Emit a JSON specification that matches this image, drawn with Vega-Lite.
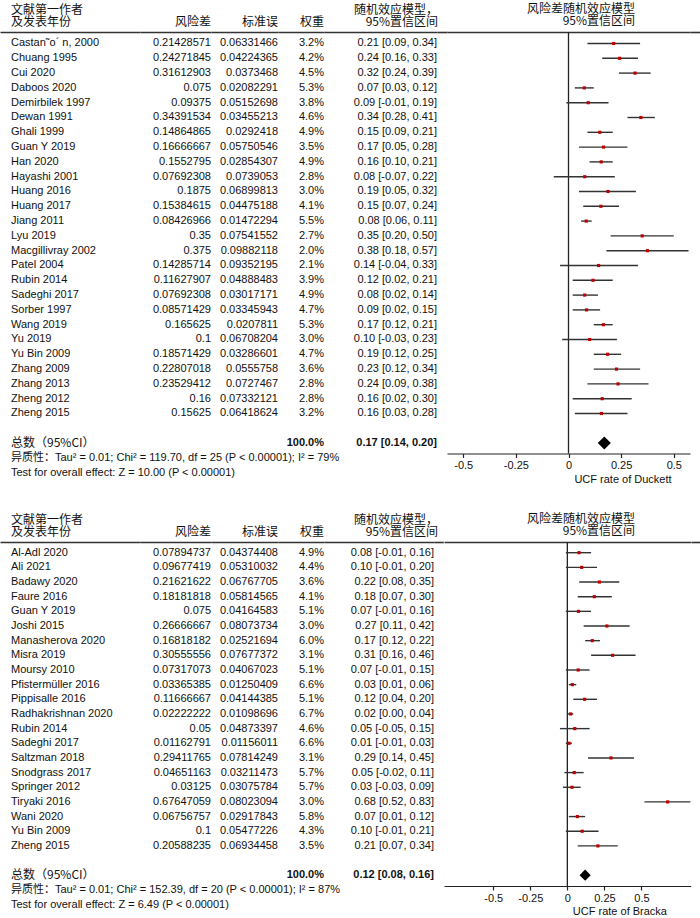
{
"$schema": "https://vega.github.io/schema/vega-lite/v6.json",
"background": "white",
"padding": {"top": 3, "left": 0, "right": 0, "bottom": 0},
"spacing": 29,
"config": {
  "view": {"stroke": null},
  "font": "Liberation Sans",
  "text": {"font": "Liberation Sans", "fontSize": 11, "color": "#111"},
  "title": {"font": "Noto Sans CJK SC", "fontSize": 12, "fontWeight": "normal", "color": "#111", "lineHeight": 12, "offset": 3},
  "axis": {"grid": false, "labelFont": "Liberation Sans", "labelFontSize": 11, "labelColor": "#111", "titleFont": "Liberation Sans", "titleFontSize": 11, "titleFontWeight": "normal", "titleColor": "#111", "domainColor": "#222", "tickColor": "#222", "domainWidth": 1.2, "tickWidth": 1.2, "tickSize": 4, "labelPadding": 2}
},
"datasets": {
  "duckett": [
    {"study": "Castan˜o´ n, 2000", "rd": "0.21428571", "se": "0.06331466", "w": "3.2%", "ci": "0.21 [0.09, 0.34]", "est": 0.21428571, "lo": 0.09, "hi": 0.34, "type": "study"},
    {"study": "Chuang 1995", "rd": "0.24271845", "se": "0.04224365", "w": "4.2%", "ci": "0.24 [0.16, 0.33]", "est": 0.24271845, "lo": 0.16, "hi": 0.33, "type": "study"},
    {"study": "Cui 2020", "rd": "0.31612903", "se": "0.0373468", "w": "4.5%", "ci": "0.32 [0.24, 0.39]", "est": 0.31612903, "lo": 0.24, "hi": 0.39, "type": "study"},
    {"study": "Daboos 2020", "rd": "0.075", "se": "0.02082291", "w": "5.3%", "ci": "0.07 [0.03, 0.12]", "est": 0.075, "lo": 0.03, "hi": 0.12, "type": "study"},
    {"study": "Demirbilek 1997", "rd": "0.09375", "se": "0.05152698", "w": "3.8%", "ci": "0.09 [-0.01, 0.19]", "est": 0.09375, "lo": -0.01, "hi": 0.19, "type": "study"},
    {"study": "Dewan 1991", "rd": "0.34391534", "se": "0.03455213", "w": "4.6%", "ci": "0.34 [0.28, 0.41]", "est": 0.34391534, "lo": 0.28, "hi": 0.41, "type": "study"},
    {"study": "Ghali 1999", "rd": "0.14864865", "se": "0.0292418", "w": "4.9%", "ci": "0.15 [0.09, 0.21]", "est": 0.14864865, "lo": 0.09, "hi": 0.21, "type": "study"},
    {"study": "Guan Y 2019", "rd": "0.16666667", "se": "0.05750546", "w": "3.5%", "ci": "0.17 [0.05, 0.28]", "est": 0.16666667, "lo": 0.05, "hi": 0.28, "type": "study"},
    {"study": "Han 2020", "rd": "0.1552795", "se": "0.02854307", "w": "4.9%", "ci": "0.16 [0.10, 0.21]", "est": 0.1552795, "lo": 0.10, "hi": 0.21, "type": "study"},
    {"study": "Hayashi 2001", "rd": "0.07692308", "se": "0.0739053", "w": "2.8%", "ci": "0.08 [-0.07, 0.22]", "est": 0.07692308, "lo": -0.07, "hi": 0.22, "type": "study"},
    {"study": "Huang 2016", "rd": "0.1875", "se": "0.06899813", "w": "3.0%", "ci": "0.19 [0.05, 0.32]", "est": 0.1875, "lo": 0.05, "hi": 0.32, "type": "study"},
    {"study": "Huang 2017", "rd": "0.15384615", "se": "0.04475188", "w": "4.1%", "ci": "0.15 [0.07, 0.24]", "est": 0.15384615, "lo": 0.07, "hi": 0.24, "type": "study"},
    {"study": "Jiang 2011", "rd": "0.08426966", "se": "0.01472294", "w": "5.5%", "ci": "0.08 [0.06, 0.11]", "est": 0.08426966, "lo": 0.06, "hi": 0.11, "type": "study"},
    {"study": "Lyu 2019", "rd": "0.35", "se": "0.07541552", "w": "2.7%", "ci": "0.35 [0.20, 0.50]", "est": 0.35, "lo": 0.20, "hi": 0.50, "type": "study"},
    {"study": "Macgillivray 2002", "rd": "0.375", "se": "0.09882118", "w": "2.0%", "ci": "0.38 [0.18, 0.57]", "est": 0.375, "lo": 0.18, "hi": 0.57, "type": "study"},
    {"study": "Patel 2004", "rd": "0.14285714", "se": "0.09352195", "w": "2.1%", "ci": "0.14 [-0.04, 0.33]", "est": 0.14285714, "lo": -0.04, "hi": 0.33, "type": "study"},
    {"study": "Rubin 2014", "rd": "0.11627907", "se": "0.04888483", "w": "3.9%", "ci": "0.12 [0.02, 0.21]", "est": 0.11627907, "lo": 0.02, "hi": 0.21, "type": "study"},
    {"study": "Sadeghi 2017", "rd": "0.07692308", "se": "0.03017171", "w": "4.9%", "ci": "0.08 [0.02, 0.14]", "est": 0.07692308, "lo": 0.02, "hi": 0.14, "type": "study"},
    {"study": "Sorber 1997", "rd": "0.08571429", "se": "0.03345943", "w": "4.7%", "ci": "0.09 [0.02, 0.15]", "est": 0.08571429, "lo": 0.02, "hi": 0.15, "type": "study"},
    {"study": "Wang 2019", "rd": "0.165625", "se": "0.0207811", "w": "5.3%", "ci": "0.17 [0.12, 0.21]", "est": 0.165625, "lo": 0.12, "hi": 0.21, "type": "study"},
    {"study": "Yu 2019", "rd": "0.1", "se": "0.06708204", "w": "3.0%", "ci": "0.10 [-0.03, 0.23]", "est": 0.1, "lo": -0.03, "hi": 0.23, "type": "study"},
    {"study": "Yu Bin 2009", "rd": "0.18571429", "se": "0.03286601", "w": "4.7%", "ci": "0.19 [0.12, 0.25]", "est": 0.18571429, "lo": 0.12, "hi": 0.25, "type": "study"},
    {"study": "Zhang 2009", "rd": "0.22807018", "se": "0.0555758", "w": "3.6%", "ci": "0.23 [0.12, 0.34]", "est": 0.22807018, "lo": 0.12, "hi": 0.34, "type": "study"},
    {"study": "Zhang 2013", "rd": "0.23529412", "se": "0.0727467", "w": "2.8%", "ci": "0.24 [0.09, 0.38]", "est": 0.23529412, "lo": 0.09, "hi": 0.38, "type": "study"},
    {"study": "Zheng 2012", "rd": "0.16", "se": "0.07332121", "w": "2.8%", "ci": "0.16 [0.02, 0.30]", "est": 0.16, "lo": 0.02, "hi": 0.30, "type": "study"},
    {"study": "Zheng 2015", "rd": "0.15625", "se": "0.06418624", "w": "3.2%", "ci": "0.16 [0.03, 0.28]", "est": 0.15625, "lo": 0.03, "hi": 0.28, "type": "study"},
    {"study": "总数（95%CI）", "w": "100.0%", "ci": "0.17 [0.14, 0.20]", "est": 0.17, "lo": 0.14, "hi": 0.20, "type": "total"},
    {"study": "异质性", "note": "异质性：Tau² = 0.01; Chi² = 119.70, df = 25 (P < 0.00001); I² = 79%", "type": "note"},
    {"study": "Test", "note": "Test for overall effect: Z = 10.00 (P < 0.00001)", "type": "note"}
  ],
  "bracka": [
    {"study": "Al-Adl 2020", "rd": "0.07894737", "se": "0.04374408", "w": "4.9%", "ci": "0.08 [-0.01, 0.16]", "est": 0.07894737, "lo": -0.01, "hi": 0.16, "type": "study"},
    {"study": "Ali 2021", "rd": "0.09677419", "se": "0.05310032", "w": "4.4%", "ci": "0.10 [-0.01, 0.20]", "est": 0.09677419, "lo": -0.01, "hi": 0.20, "type": "study"},
    {"study": "Badawy 2020", "rd": "0.21621622", "se": "0.06767705", "w": "3.6%", "ci": "0.22 [0.08, 0.35]", "est": 0.21621622, "lo": 0.08, "hi": 0.35, "type": "study"},
    {"study": "Faure 2016", "rd": "0.18181818", "se": "0.05814565", "w": "4.1%", "ci": "0.18 [0.07, 0.30]", "est": 0.18181818, "lo": 0.07, "hi": 0.30, "type": "study"},
    {"study": "Guan Y 2019", "rd": "0.075", "se": "0.04164583", "w": "5.1%", "ci": "0.07 [-0.01, 0.16]", "est": 0.075, "lo": -0.01, "hi": 0.16, "type": "study"},
    {"study": "Joshi 2015", "rd": "0.26666667", "se": "0.08073734", "w": "3.0%", "ci": "0.27 [0.11, 0.42]", "est": 0.26666667, "lo": 0.11, "hi": 0.42, "type": "study"},
    {"study": "Manasherova 2020", "rd": "0.16818182", "se": "0.02521694", "w": "6.0%", "ci": "0.17 [0.12, 0.22]", "est": 0.16818182, "lo": 0.12, "hi": 0.22, "type": "study"},
    {"study": "Misra 2019", "rd": "0.30555556", "se": "0.07677372", "w": "3.1%", "ci": "0.31 [0.16, 0.46]", "est": 0.30555556, "lo": 0.16, "hi": 0.46, "type": "study"},
    {"study": "Moursy 2010", "rd": "0.07317073", "se": "0.04067023", "w": "5.1%", "ci": "0.07 [-0.01, 0.15]", "est": 0.07317073, "lo": -0.01, "hi": 0.15, "type": "study"},
    {"study": "Pfistermüller 2016", "rd": "0.03365385", "se": "0.01250409", "w": "6.6%", "ci": "0.03 [0.01, 0.06]", "est": 0.03365385, "lo": 0.01, "hi": 0.06, "type": "study"},
    {"study": "Pippisalle 2016", "rd": "0.11666667", "se": "0.04144385", "w": "5.1%", "ci": "0.12 [0.04, 0.20]", "est": 0.11666667, "lo": 0.04, "hi": 0.20, "type": "study"},
    {"study": "Radhakrishnan 2020", "rd": "0.02222222", "se": "0.01098696", "w": "6.7%", "ci": "0.02 [0.00, 0.04]", "est": 0.02222222, "lo": 0.00, "hi": 0.04, "type": "study"},
    {"study": "Rubin 2014", "rd": "0.05", "se": "0.04873397", "w": "4.6%", "ci": "0.05 [-0.05, 0.15]", "est": 0.05, "lo": -0.05, "hi": 0.15, "type": "study"},
    {"study": "Sadeghi 2017", "rd": "0.01162791", "se": "0.01156011", "w": "6.6%", "ci": "0.01 [-0.01, 0.03]", "est": 0.01162791, "lo": -0.01, "hi": 0.03, "type": "study"},
    {"study": "Saltzman 2018", "rd": "0.29411765", "se": "0.07814249", "w": "3.1%", "ci": "0.29 [0.14, 0.45]", "est": 0.29411765, "lo": 0.14, "hi": 0.45, "type": "study"},
    {"study": "Snodgrass 2017", "rd": "0.04651163", "se": "0.03211473", "w": "5.7%", "ci": "0.05 [-0.02, 0.11]", "est": 0.04651163, "lo": -0.02, "hi": 0.11, "type": "study"},
    {"study": "Springer 2012", "rd": "0.03125", "se": "0.03075784", "w": "5.7%", "ci": "0.03 [-0.03, 0.09]", "est": 0.03125, "lo": -0.03, "hi": 0.09, "type": "study"},
    {"study": "Tiryaki 2016", "rd": "0.67647059", "se": "0.08023094", "w": "3.0%", "ci": "0.68 [0.52, 0.83]", "est": 0.67647059, "lo": 0.52, "hi": 0.83, "type": "study"},
    {"study": "Wani 2020", "rd": "0.06756757", "se": "0.02917843", "w": "5.8%", "ci": "0.07 [0.01, 0.12]", "est": 0.06756757, "lo": 0.01, "hi": 0.12, "type": "study"},
    {"study": "Yu Bin 2009", "rd": "0.1", "se": "0.05477226", "w": "4.3%", "ci": "0.10 [-0.01, 0.21]", "est": 0.1, "lo": -0.01, "hi": 0.21, "type": "study"},
    {"study": "Zheng 2015", "rd": "0.20588235", "se": "0.06934458", "w": "3.5%", "ci": "0.21 [0.07, 0.34]", "est": 0.20588235, "lo": 0.07, "hi": 0.34, "type": "study"},
    {"study": "总数（95%CI）", "w": "100.0%", "ci": "0.12 [0.08, 0.16]", "est": 0.12, "lo": 0.08, "hi": 0.16, "type": "total"},
    {"study": "异质性", "note": "异质性：Tau² = 0.01; Chi² = 152.39, df = 20 (P < 0.00001); I² = 87%", "type": "note"},
    {"study": "Test", "note": "Test for overall effect: Z = 6.49 (P < 0.00001)", "type": "note"}
  ]
},
"vconcat": [
  {
    "bounds": "flush",
    "spacing": 0,
    "hconcat": [
      {
        "width": 140, "height": 451.1,
        "data": {"name": "duckett"},
        "title": {"text": ["文献第一作者", " 及发表年份"], "anchor": "start", "align": "left", "dx": 11, "lineHeight": 12},
        "encoding": {
          "x": {"datum": "study", "type": "nominal", "scale": {"type": "point", "align": 0.0786}, "axis": {"orient": "top", "labels": false, "ticks": false, "title": null, "domainColor": "#333", "domainWidth": 1.6}},
          "y": {"field": "study", "type": "nominal", "scale": {"type": "point", "domain": ["Castan˜o´ n, 2000","Chuang 1995","Cui 2020","Daboos 2020","Demirbilek 1997","Dewan 1991","Ghali 1999","Guan Y 2019","Han 2020","Hayashi 2001","Huang 2016","Huang 2017","Jiang 2011","Lyu 2019","Macgillivray 2002","Patel 2004","Rubin 2014","Sadeghi 2017","Sorber 1997","Wang 2019","Yu 2019","Yu Bin 2009","Zhang 2009","Zhang 2013","Zheng 2012","Zheng 2015","","总数（95%CI）","异质性","Test"], "padding": 0.74, "align": 0.525}, "axis": null}
        },
        "layer": [
          {"transform": [{"filter": "datum.type === 'study'"}], "mark": {"type": "text", "align": "left"}, "encoding": {"text": {"field": "study"}}},
          {"transform": [{"filter": "datum.type === 'total'"}], "mark": {"type": "text", "align": "left", "font": "Noto Sans CJK SC", "fontSize": 12}, "encoding": {"text": {"field": "study"}}},
          {"transform": [{"filter": "datum.type === 'note'"}], "mark": {"type": "text", "align": "left", "font": "Liberation Sans, Noto Sans CJK SC"}, "encoding": {"text": {"field": "note"}}}
        ]
      },
      {
        "width": 71, "height": 451.1,
        "data": {"name": "duckett"},
        "title": {"text": "风险差", "anchor": "end", "align": "right"},
        "transform": [{"filter": "datum.type === 'study'"}],
        "mark": {"type": "text", "align": "right"},
        "encoding": {
          "x": {"datum": "rd", "type": "nominal", "scale": {"type": "point", "align": 1}, "axis": {"orient": "top", "labels": false, "ticks": false, "title": null, "domainColor": "#333", "domainWidth": 1.6}},
          "y": {"field": "study", "type": "nominal", "scale": {"type": "point", "domain": ["Castan˜o´ n, 2000","Chuang 1995","Cui 2020","Daboos 2020","Demirbilek 1997","Dewan 1991","Ghali 1999","Guan Y 2019","Han 2020","Hayashi 2001","Huang 2016","Huang 2017","Jiang 2011","Lyu 2019","Macgillivray 2002","Patel 2004","Rubin 2014","Sadeghi 2017","Sorber 1997","Wang 2019","Yu 2019","Yu Bin 2009","Zhang 2009","Zhang 2013","Zheng 2012","Zheng 2015","","总数（95%CI）","异质性","Test"], "padding": 0.74, "align": 0.525}, "axis": null},
          "text": {"field": "rd"}
        }
      },
      {
        "width": 67, "height": 451.1,
        "data": {"name": "duckett"},
        "title": {"text": "标准误", "anchor": "end", "align": "right"},
        "transform": [{"filter": "datum.type === 'study'"}],
        "mark": {"type": "text", "align": "right"},
        "encoding": {
          "x": {"datum": "se", "type": "nominal", "scale": {"type": "point", "align": 1}, "axis": {"orient": "top", "labels": false, "ticks": false, "title": null, "domainColor": "#333", "domainWidth": 1.6}},
          "y": {"field": "study", "type": "nominal", "scale": {"type": "point", "domain": ["Castan˜o´ n, 2000","Chuang 1995","Cui 2020","Daboos 2020","Demirbilek 1997","Dewan 1991","Ghali 1999","Guan Y 2019","Han 2020","Hayashi 2001","Huang 2016","Huang 2017","Jiang 2011","Lyu 2019","Macgillivray 2002","Patel 2004","Rubin 2014","Sadeghi 2017","Sorber 1997","Wang 2019","Yu 2019","Yu Bin 2009","Zhang 2009","Zhang 2013","Zheng 2012","Zheng 2015","","总数（95%CI）","异质性","Test"], "padding": 0.74, "align": 0.525}, "axis": null},
          "text": {"field": "se"}
        }
      },
      {
        "width": 46, "height": 451.1,
        "data": {"name": "duckett"},
        "title": {"text": "权重", "anchor": "end", "align": "right"},
        "encoding": {
          "x": {"datum": "w", "type": "nominal", "scale": {"type": "point", "align": 1}, "axis": {"orient": "top", "labels": false, "ticks": false, "title": null, "domainColor": "#333", "domainWidth": 1.6}},
          "y": {"field": "study", "type": "nominal", "scale": {"type": "point", "domain": ["Castan˜o´ n, 2000","Chuang 1995","Cui 2020","Daboos 2020","Demirbilek 1997","Dewan 1991","Ghali 1999","Guan Y 2019","Han 2020","Hayashi 2001","Huang 2016","Huang 2017","Jiang 2011","Lyu 2019","Macgillivray 2002","Patel 2004","Rubin 2014","Sadeghi 2017","Sorber 1997","Wang 2019","Yu 2019","Yu Bin 2009","Zhang 2009","Zhang 2013","Zheng 2012","Zheng 2015","","总数（95%CI）","异质性","Test"], "padding": 0.74, "align": 0.525}, "axis": null},
          "text": {"field": "w"}
        },
        "layer": [
          {"transform": [{"filter": "datum.type === 'study'"}], "mark": {"type": "text", "align": "right"}},
          {"transform": [{"filter": "datum.type === 'total'"}], "mark": {"type": "text", "align": "right", "fontWeight": "bold"}}
        ]
      },
      {
        "width": 113, "height": 451.1,
        "data": {"name": "duckett"},
        "title": {"text": ["随机效应模型，", "95%置信区间"], "anchor": "end", "align": "right", "dx": 1, "lineHeight": 12},
        "encoding": {
          "x": {"datum": "ci", "type": "nominal", "scale": {"type": "point", "align": 1}, "axis": {"orient": "top", "labels": false, "ticks": false, "title": null, "domainColor": "#333", "domainWidth": 1.6}},
          "y": {"field": "study", "type": "nominal", "scale": {"type": "point", "domain": ["Castan˜o´ n, 2000","Chuang 1995","Cui 2020","Daboos 2020","Demirbilek 1997","Dewan 1991","Ghali 1999","Guan Y 2019","Han 2020","Hayashi 2001","Huang 2016","Huang 2017","Jiang 2011","Lyu 2019","Macgillivray 2002","Patel 2004","Rubin 2014","Sadeghi 2017","Sorber 1997","Wang 2019","Yu 2019","Yu Bin 2009","Zhang 2009","Zhang 2013","Zheng 2012","Zheng 2015","","总数（95%CI）","异质性","Test"], "padding": 0.74, "align": 0.525}, "axis": null},
          "text": {"field": "ci"}
        },
        "layer": [
          {"transform": [{"filter": "datum.type === 'study'"}], "mark": {"type": "text", "align": "right"}},
          {"transform": [{"filter": "datum.type === 'total'"}], "mark": {"type": "text", "align": "right", "fontWeight": "bold"}}
        ]
      },
      {
        "width": 10, "height": 421.5,
        "data": {"values": [{}]},
        "mark": {"type": "text"},
        "encoding": {
          "x": {"datum": "gap", "type": "nominal", "axis": {"orient": "top", "labels": false, "ticks": false, "title": null, "domainColor": "#333", "domainWidth": 1.6}},
          "text": {"value": ""}
        }
      },
      {
        "width": 243, "height": 421.5,
        "data": {"name": "duckett"},
        "title": {"text": ["风险差随机效应模型", "95%置信区间"], "anchor": "end", "align": "right", "dx": -55, "lineHeight": 12},
        "resolve": {"scale": {"x": "independent"}, "axis": {"x": "independent"}},
        "layer": [
          {
            "data": {"values": [{}]},
            "mark": {"type": "rule", "color": "#222", "strokeWidth": 1.3},
            "encoding": {"x": {"datum": 0, "type": "quantitative", "scale": {"domain": [-0.577, 0.577], "nice": false, "zero": false}, "axis": {"orient": "top", "labels": false, "ticks": false, "title": null, "domainColor": "#333", "domainWidth": 1.6}}}
          },
          {
            "encoding": {
              "y": {"field": "study", "type": "nominal", "scale": {"type": "point", "domain": ["Castan˜o´ n, 2000","Chuang 1995","Cui 2020","Daboos 2020","Demirbilek 1997","Dewan 1991","Ghali 1999","Guan Y 2019","Han 2020","Hayashi 2001","Huang 2016","Huang 2017","Jiang 2011","Lyu 2019","Macgillivray 2002","Patel 2004","Rubin 2014","Sadeghi 2017","Sorber 1997","Wang 2019","Yu 2019","Yu Bin 2009","Zhang 2009","Zhang 2013","Zheng 2012","Zheng 2015","","总数（95%CI）"], "padding": 0.74, "align": 0.525}, "axis": null},
              "x": {"field": "lo", "type": "quantitative", "title": "UCF rate of Duckett", "scale": {"domain": [-0.577, 0.577], "nice": false, "zero": false}, "axis": {"orient": "bottom", "values": [-0.5, -0.25, 0, 0.25, 0.5], "labelExpr": "datum.value < 0 ? '-' + format(-datum.value, '~g') : format(datum.value, '~g')", "titleX": 175.5, "titleY": 19.5, "titleAlign": "center"}}
            },
            "layer": [
              {"transform": [{"filter": "datum.type === 'study'"}], "mark": {"type": "rule", "color": "#333", "strokeWidth": 1.4}, "encoding": {"x2": {"field": "hi"}}},
              {"transform": [{"filter": "datum.type === 'study'"}], "mark": {"type": "square", "color": "#c00000", "size": 10, "opacity": 1}, "encoding": {"x": {"field": "est", "type": "quantitative", "title": "UCF rate of Duckett"}}},
              {"transform": [{"filter": "datum.type === 'total'"}], "mark": {"type": "point", "shape": "diamond", "filled": true, "color": "#000", "size": 170, "opacity": 1}, "encoding": {"x": {"field": "est", "type": "quantitative", "title": "UCF rate of Duckett"}}}
            ]
          }
        ]
      },
      {
        "width": 10, "height": 421.5,
        "data": {"values": [{}]},
        "mark": {"type": "text"},
        "encoding": {
          "x": {"datum": "gap", "type": "nominal", "axis": {"orient": "top", "labels": false, "ticks": false, "title": null, "domainColor": "#333", "domainWidth": 1.6}},
          "text": {"value": ""}
        }
      }
    ]
  },
  {
    "bounds": "flush",
    "spacing": 0,
    "hconcat": [
      {
        "width": 140, "height": 373.3,
        "data": {"name": "bracka"},
        "title": {"text": ["文献第一作者", " 及发表年份"], "anchor": "start", "align": "left", "dx": 11, "lineHeight": 12},
        "encoding": {
          "x": {"datum": "study", "type": "nominal", "scale": {"type": "point", "align": 0.0786}, "axis": {"orient": "top", "labels": false, "ticks": false, "title": null, "domainColor": "#333", "domainWidth": 1.6}},
          "y": {"field": "study", "type": "nominal", "scale": {"type": "point", "domain": ["Al-Adl 2020","Ali 2021","Badawy 2020","Faure 2016","Guan Y 2019","Joshi 2015","Manasherova 2020","Misra 2019","Moursy 2010","Pfistermüller 2016","Pippisalle 2016","Radhakrishnan 2020","Rubin 2014","Sadeghi 2017","Saltzman 2018","Snodgrass 2017","Springer 2012","Tiryaki 2016","Wani 2020","Yu Bin 2009","Zheng 2015","","总数（95%CI）","异质性","Test"], "padding": 0.733, "align": 0.498}, "axis": null}
        },
        "layer": [
          {"transform": [{"filter": "datum.type === 'study'"}], "mark": {"type": "text", "align": "left"}, "encoding": {"text": {"field": "study"}}},
          {"transform": [{"filter": "datum.type === 'total'"}], "mark": {"type": "text", "align": "left", "font": "Noto Sans CJK SC", "fontSize": 12}, "encoding": {"text": {"field": "study"}}},
          {"transform": [{"filter": "datum.type === 'note'"}], "mark": {"type": "text", "align": "left", "font": "Liberation Sans, Noto Sans CJK SC"}, "encoding": {"text": {"field": "note"}}}
        ]
      },
      {
        "width": 71, "height": 373.3,
        "data": {"name": "bracka"},
        "title": {"text": "风险差", "anchor": "end", "align": "right"},
        "transform": [{"filter": "datum.type === 'study'"}],
        "mark": {"type": "text", "align": "right"},
        "encoding": {
          "x": {"datum": "rd", "type": "nominal", "scale": {"type": "point", "align": 1}, "axis": {"orient": "top", "labels": false, "ticks": false, "title": null, "domainColor": "#333", "domainWidth": 1.6}},
          "y": {"field": "study", "type": "nominal", "scale": {"type": "point", "domain": ["Al-Adl 2020","Ali 2021","Badawy 2020","Faure 2016","Guan Y 2019","Joshi 2015","Manasherova 2020","Misra 2019","Moursy 2010","Pfistermüller 2016","Pippisalle 2016","Radhakrishnan 2020","Rubin 2014","Sadeghi 2017","Saltzman 2018","Snodgrass 2017","Springer 2012","Tiryaki 2016","Wani 2020","Yu Bin 2009","Zheng 2015","","总数（95%CI）","异质性","Test"], "padding": 0.733, "align": 0.498}, "axis": null},
          "text": {"field": "rd"}
        }
      },
      {
        "width": 67, "height": 373.3,
        "data": {"name": "bracka"},
        "title": {"text": "标准误", "anchor": "end", "align": "right"},
        "transform": [{"filter": "datum.type === 'study'"}],
        "mark": {"type": "text", "align": "right"},
        "encoding": {
          "x": {"datum": "se", "type": "nominal", "scale": {"type": "point", "align": 1}, "axis": {"orient": "top", "labels": false, "ticks": false, "title": null, "domainColor": "#333", "domainWidth": 1.6}},
          "y": {"field": "study", "type": "nominal", "scale": {"type": "point", "domain": ["Al-Adl 2020","Ali 2021","Badawy 2020","Faure 2016","Guan Y 2019","Joshi 2015","Manasherova 2020","Misra 2019","Moursy 2010","Pfistermüller 2016","Pippisalle 2016","Radhakrishnan 2020","Rubin 2014","Sadeghi 2017","Saltzman 2018","Snodgrass 2017","Springer 2012","Tiryaki 2016","Wani 2020","Yu Bin 2009","Zheng 2015","","总数（95%CI）","异质性","Test"], "padding": 0.733, "align": 0.498}, "axis": null},
          "text": {"field": "se"}
        }
      },
      {
        "width": 46, "height": 373.3,
        "data": {"name": "bracka"},
        "title": {"text": "权重", "anchor": "end", "align": "right"},
        "encoding": {
          "x": {"datum": "w", "type": "nominal", "scale": {"type": "point", "align": 1}, "axis": {"orient": "top", "labels": false, "ticks": false, "title": null, "domainColor": "#333", "domainWidth": 1.6}},
          "y": {"field": "study", "type": "nominal", "scale": {"type": "point", "domain": ["Al-Adl 2020","Ali 2021","Badawy 2020","Faure 2016","Guan Y 2019","Joshi 2015","Manasherova 2020","Misra 2019","Moursy 2010","Pfistermüller 2016","Pippisalle 2016","Radhakrishnan 2020","Rubin 2014","Sadeghi 2017","Saltzman 2018","Snodgrass 2017","Springer 2012","Tiryaki 2016","Wani 2020","Yu Bin 2009","Zheng 2015","","总数（95%CI）","异质性","Test"], "padding": 0.733, "align": 0.498}, "axis": null},
          "text": {"field": "w"}
        },
        "layer": [
          {"transform": [{"filter": "datum.type === 'study'"}], "mark": {"type": "text", "align": "right"}},
          {"transform": [{"filter": "datum.type === 'total'"}], "mark": {"type": "text", "align": "right", "fontWeight": "bold"}}
        ]
      },
      {
        "width": 110, "height": 373.3,
        "data": {"name": "bracka"},
        "title": {"text": ["随机效应模型，", "95%置信区间"], "anchor": "end", "align": "right", "dx": 4, "lineHeight": 12},
        "encoding": {
          "x": {"datum": "ci", "type": "nominal", "scale": {"type": "point", "align": 1}, "axis": {"orient": "top", "labels": false, "ticks": false, "title": null, "domainColor": "#333", "domainWidth": 1.6}},
          "y": {"field": "study", "type": "nominal", "scale": {"type": "point", "domain": ["Al-Adl 2020","Ali 2021","Badawy 2020","Faure 2016","Guan Y 2019","Joshi 2015","Manasherova 2020","Misra 2019","Moursy 2010","Pfistermüller 2016","Pippisalle 2016","Radhakrishnan 2020","Rubin 2014","Sadeghi 2017","Saltzman 2018","Snodgrass 2017","Springer 2012","Tiryaki 2016","Wani 2020","Yu Bin 2009","Zheng 2015","","总数（95%CI）","异质性","Test"], "padding": 0.733, "align": 0.498}, "axis": null},
          "text": {"field": "ci"}
        },
        "layer": [
          {"transform": [{"filter": "datum.type === 'study'"}], "mark": {"type": "text", "align": "right"}},
          {"transform": [{"filter": "datum.type === 'total'"}], "mark": {"type": "text", "align": "right", "fontWeight": "bold"}}
        ]
      },
      {
        "width": 9.3, "height": 344,
        "data": {"values": [{}]},
        "mark": {"type": "text"},
        "encoding": {
          "x": {"datum": "gap", "type": "nominal", "axis": {"orient": "top", "labels": false, "ticks": false, "title": null, "domainColor": "#333", "domainWidth": 1.6}},
          "text": {"value": ""}
        }
      },
      {
        "width": 246.7, "height": 344,
        "data": {"name": "bracka"},
        "title": {"text": ["风险差随机效应模型", "95%置信区间"], "anchor": "end", "align": "right", "dx": -56, "lineHeight": 12},
        "resolve": {"scale": {"x": "independent"}, "axis": {"x": "independent"}},
        "layer": [
          {
            "data": {"values": [{}]},
            "mark": {"type": "rule", "color": "#222", "strokeWidth": 1.3},
            "encoding": {"x": {"datum": 0, "type": "quantitative", "scale": {"domain": [-0.832, 0.832], "nice": false, "zero": false}, "axis": {"orient": "top", "labels": false, "ticks": false, "title": null, "domainColor": "#333", "domainWidth": 1.6}}}
          },
          {
            "encoding": {
              "y": {"field": "study", "type": "nominal", "scale": {"type": "point", "domain": ["Al-Adl 2020","Ali 2021","Badawy 2020","Faure 2016","Guan Y 2019","Joshi 2015","Manasherova 2020","Misra 2019","Moursy 2010","Pfistermüller 2016","Pippisalle 2016","Radhakrishnan 2020","Rubin 2014","Sadeghi 2017","Saltzman 2018","Snodgrass 2017","Springer 2012","Tiryaki 2016","Wani 2020","Yu Bin 2009","Zheng 2015","","总数（95%CI）"], "padding": 0.733, "align": 0.498}, "axis": null},
              "x": {"field": "lo", "type": "quantitative", "title": "UCF rate of Bracka", "scale": {"domain": [-0.832, 0.832], "nice": false, "zero": false}, "axis": {"orient": "bottom", "values": [-0.5, -0.25, 0, 0.25, 0.5], "labelExpr": "datum.value < 0 ? '-' + format(-datum.value, '~g') : format(datum.value, '~g')", "titleX": 175.4, "titleY": 19, "titleAlign": "center"}}
            },
            "layer": [
              {"transform": [{"filter": "datum.type === 'study'"}], "mark": {"type": "rule", "color": "#333", "strokeWidth": 1.4}, "encoding": {"x2": {"field": "hi"}}},
              {"transform": [{"filter": "datum.type === 'study'"}], "mark": {"type": "square", "color": "#c00000", "size": 10, "opacity": 1}, "encoding": {"x": {"field": "est", "type": "quantitative", "title": "UCF rate of Bracka"}}},
              {"transform": [{"filter": "datum.type === 'total'"}], "mark": {"type": "point", "shape": "diamond", "filled": true, "color": "#000", "size": 125, "opacity": 1}, "encoding": {"x": {"field": "est", "type": "quantitative", "title": "UCF rate of Bracka"}}}
            ]
          }
        ]
      },
      {
        "width": 10, "height": 344,
        "data": {"values": [{}]},
        "mark": {"type": "text"},
        "encoding": {
          "x": {"datum": "gap", "type": "nominal", "axis": {"orient": "top", "labels": false, "ticks": false, "title": null, "domainColor": "#333", "domainWidth": 1.6}},
          "text": {"value": ""}
        }
      }
    ]
  }
]
}
